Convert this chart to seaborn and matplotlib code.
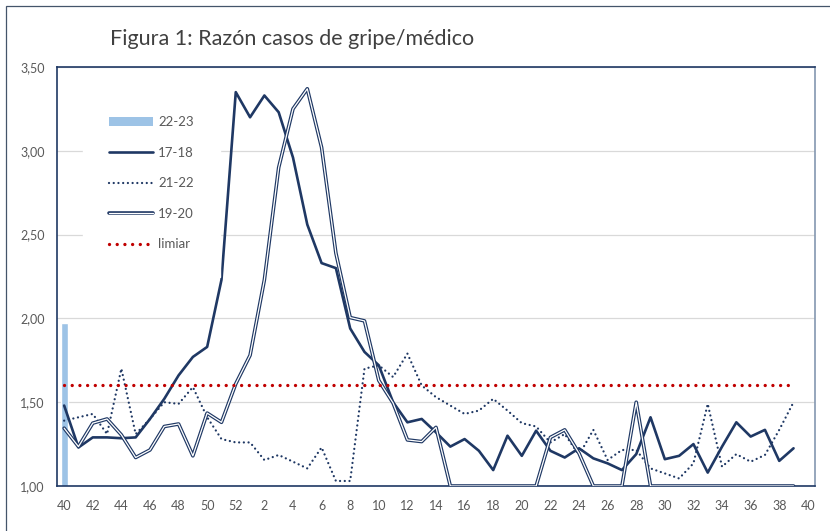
"""Flu consultation ratio per epidemiological week, several seasons."""

import matplotlib

matplotlib.use("Agg")

import matplotlib.patheffects as pe
import matplotlib.pyplot as plt
import numpy as np
import pandas as pd
import seaborn as sns
from matplotlib.lines import Line2D
from matplotlib.patches import Rectangle

NAVY = "#1F3864"
RED = "#C00000"
BAR = "#9DC3E6"
GRID = "#D9D9D9"
TXT = "#595959"

weeks = list(range(40, 53)) + list(range(1, 41))

s2223 = [1.97]

s1718 = [1.48, 1.23, 1.29, 1.29, 1.285, 1.29, 1.40, 1.52, 1.66, 1.77,
         1.83, 2.23, 3.35, 3.20, 3.33, 3.23, 2.96, 2.56, 2.33, 2.30,
         1.94, 1.80, 1.72, 1.50, 1.38, 1.40, 1.32, 1.235, 1.28, 1.21,
         1.095, 1.30, 1.18, 1.33, 1.21, 1.17, 1.225, 1.165, 1.135, 1.095,
         1.19, 1.41, 1.16, 1.18, 1.25, 1.08, 1.235, 1.38, 1.295, 1.335,
         1.15, 1.225]

s2122 = [1.39, 1.41, 1.43, 1.31, 1.70, 1.31, 1.40, 1.50, 1.49, 1.59,
         1.41, 1.28, 1.26, 1.26, 1.155, 1.185, 1.145, 1.105, 1.23, 1.03,
         1.03, 1.70, 1.72, 1.65, 1.79, 1.60, 1.53, 1.48, 1.43, 1.45,
         1.52, 1.45, 1.375, 1.355, 1.26, 1.31, 1.185, 1.335, 1.155, 1.215,
         1.215, 1.105, 1.075, 1.045, 1.135, 1.49, 1.115, 1.19, 1.145, 1.185,
         1.335, 1.50]

s1920 = [1.345, 1.235, 1.375, 1.40, 1.305, 1.17, 1.215, 1.355, 1.37, 1.18,
         1.435, 1.38, 1.61, 1.78, 2.23, 2.90, 3.25, 3.37, 3.02, 2.39,
         2.005, 1.985, 1.63, 1.495, 1.275, 1.265, 1.35, 1.0, 1.0, 1.0,
         1.0, 1.0, 1.0, 1.0, 1.29, 1.335, 1.195, 1.0, 1.0, 1.0,
         1.50, 1.0, 1.0, 1.0, 1.0, 1.0, 1.0, 1.0, 1.0, 1.0,
         1.0, 1.0]

limiar = [1.60] * 52

sns.set_theme(style="white")
plt.rcParams["font.family"] = ["Lato", "DejaVu Sans"]

fig = plt.figure(figsize=(8.3, 5.31), dpi=100)
ax = fig.add_axes([57 / 830, 1 - 486 / 531, (815 - 57) / 830, (486 - 67) / 531])

idx = np.arange(len(s1718))
bar_df = pd.DataFrame({"idx": [0], "val": s2223})
sns.barplot(data=bar_df, x="idx", y="val", order=list(range(len(weeks))),
            color=BAR, width=0.5, errorbar=None, saturation=1, ax=ax, zorder=2)

sns.lineplot(x=idx, y=s1718, color=NAVY, lw=1.9, ax=ax, zorder=3)
sns.lineplot(x=idx, y=s2122, color=NAVY, lw=1.65, ax=ax, zorder=4,
             linestyle=(0, (0.01, 2.05)), dash_capstyle="round")
double = [pe.Stroke(linewidth=2.6, foreground=NAVY), pe.Normal()]
sns.lineplot(x=idx, y=s1920, color="white", lw=0.9, ax=ax, zorder=5,
             path_effects=double)
sns.lineplot(x=idx, y=limiar, color=RED, lw=2.4, ax=ax, zorder=6,
             linestyle=(0, (0.01, 2.3)), dash_capstyle="round")

ax.set_xlim(-0.5, len(weeks) - 0.5)
ax.set_ylim(1.0, 3.5)
ax.set_yticks(np.arange(1.0, 3.51, 0.5))
ax.set_yticklabels([f"{v:.2f}".replace(".", ",") for v in np.arange(1.0, 3.51, 0.5)])
ax.set_xticks(range(0, len(weeks), 2))
ax.set_xticklabels([str(weeks[i]) for i in range(0, len(weeks), 2)])
ax.set_xlabel("")
ax.set_ylabel("")
ax.tick_params(axis="both", length=0, labelsize=9, labelcolor=TXT)
ax.tick_params(axis="x", pad=10)
ax.tick_params(axis="y", pad=9)
ax.yaxis.grid(True, color=GRID, lw=0.9, zorder=0)
ax.set_axisbelow(True)
for side in ax.spines.values():
    side.set_color(NAVY)
    side.set_linewidth(1.2)
ax.spines["right"].set_color("#8497B0")

handles = [
    Rectangle((0, 0), 1, 1, facecolor=BAR, edgecolor="none"),
    Line2D([], [], color=NAVY, lw=1.9),
    Line2D([], [], color=NAVY, lw=1.65, linestyle=(0, (0.01, 2.05)),
           dash_capstyle="round"),
    Line2D([], [], color="white", lw=0.9, path_effects=double),
    Line2D([], [], color=RED, lw=2.4, linestyle=(0, (0.01, 2.3)),
           dash_capstyle="round"),
]
labels = ["22-23", "17-18", "21-22", "19-20", "limiar"]
leg = ax.legend(handles, labels, loc="upper left",
                bbox_to_anchor=((83 - 57) / 758, (486 - 90) / 419),
                frameon=True, fancybox=False, facecolor="white", edgecolor="white",
                framealpha=1, fontsize=9.5, labelspacing=1.4, handlelength=3.3,
                handletextpad=0.4, borderpad=2.0, borderaxespad=0)
for t in leg.get_texts():
    t.set_color(TXT)
leg.set_zorder(7)

fig.text(110 / 830, 1 - 39 / 531, "Figura 1: Razón casos de gripe/médico",
         fontsize=15.5, color="#404040", va="center", ha="left")

fig.patches.append(Rectangle((6 / 830, -0.1), 1.2, 1.1 - 6 / 531,
                             transform=fig.transFigure, fill=False,
                             edgecolor="#44546A", lw=0.9))

fig.savefig("out.png", dpi=100)
